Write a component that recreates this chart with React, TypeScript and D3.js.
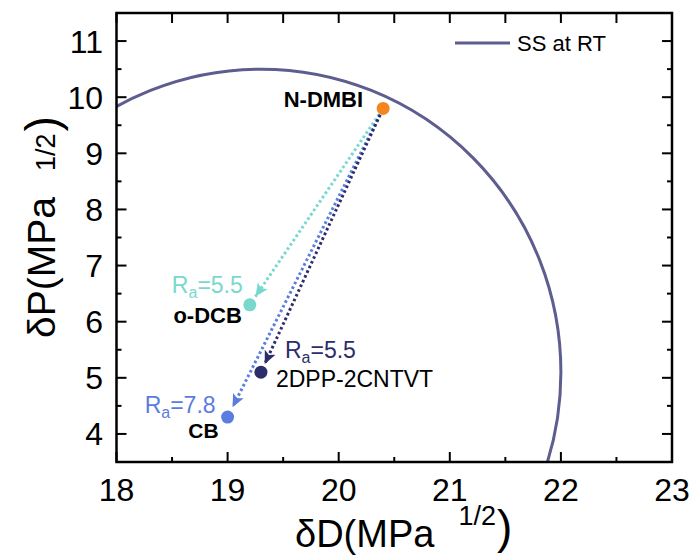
import React from 'react';
import * as d3 from 'd3';

// ---- data ----
const xDomain: [number, number] = [18, 23];
const yDomain: [number, number] = [3.5, 11.5];
const xTickValues = [18, 19, 20, 21, 22, 23];
const yTickValues = [4, 5, 6, 7, 8, 9, 10, 11];
const minorStep = 0.5;

const names = ['N-DMBI', 'o-DCB', '2DPP-2CNTVT', 'CB'];
const deltaD = [20.4, 19.2, 19.3, 19.0];
const deltaP = [9.8, 6.3, 5.1, 4.3];

const sphereCenter = [19.3, 5.1];
const sphereRadius = 5.4; // Hansen radius (δD axis scaled by 2)
const legendLabel = 'SS at RT';

const arrowSource = 'N-DMBI';
const arrowTargets = ['o-DCB', 'CB', '2DPP-2CNTVT'];
const raTargets = ['o-DCB', '2DPP-2CNTVT', 'CB'];
const raValues = ['5.5', '5.5', '7.8'];

// ---- styles ----
const W = 695;
const H = 556;
const M = { left: 116.5, right: 672, top: 13, bottom: 462 };
const FONT = "'Liberation Sans', Arial, Helvetica, sans-serif";

const colors: Record<string, string> = {
  'N-DMBI': '#F5861F',
  'o-DCB': '#79D8CD',
  '2DPP-2CNTVT': '#2C2D6B',
  'CB': '#5A7DDF',
};
const circleColor = '#5E5D8F';

const nameLabelStyle: Record<string, { dx: number; dy: number; anchor: string; bold: boolean; size: number }> = {
  'N-DMBI': { dx: -20, dy: -1, anchor: 'end', bold: true, size: 22 },
  'o-DCB': { dx: -8, dy: 18, anchor: 'end', bold: true, size: 22 },
  '2DPP-2CNTVT': { dx: 15, dy: 15, anchor: 'start', bold: false, size: 23 },
  'CB': { dx: -9, dy: 21, anchor: 'end', bold: true, size: 21 },
};
const raLabelStyle: Record<string, { dx: number; dy: number; anchor: string }> = {
  'o-DCB': { dx: -7, dy: -12, anchor: 'end' },
  '2DPP-2CNTVT': { dx: 24, dy: -14, anchor: 'start' },
  'CB': { dx: -12, dy: -4, anchor: 'end' },
};
const arrowEndGap: Record<string, number> = { 'o-DCB': 10, 'CB': 11, '2DPP-2CNTVT': 9 };

export default function App() {
  const x = d3.scaleLinear().domain(xDomain).range([M.left, M.right]);
  const y = d3.scaleLinear().domain(yDomain).range([M.bottom, M.top]);

  const idx = (n: string) => names.indexOf(n);
  const px = (n: string) => x(deltaD[idx(n)]);
  const py = (n: string) => y(deltaP[idx(n)]);

  const xMinor = d3.range(xDomain[0], xDomain[1] + 1e-9, minorStep);
  const yMinor = d3.range(yDomain[0], yDomain[1] + 1e-9, minorStep);
  const isMajorX = (v: number) => xTickValues.some((t) => Math.abs(t - v) < 1e-9);
  const isMajorY = (v: number) => yTickValues.some((t) => Math.abs(t - v) < 1e-9);

  const majorLen = 10;
  const minorLen = 5;

  const cx = x(sphereCenter[0]);
  const cy = y(sphereCenter[1]);
  const rx = x(sphereCenter[0] + sphereRadius / 2) - cx;
  const ry = cy - y(sphereCenter[1] + sphereRadius);

  const sx = px(arrowSource);
  const sy = py(arrowSource);

  return (
    <svg width={W} height={H} style={{ position: 'absolute', left: 0, top: 0, background: '#fff' }} fontFamily={FONT}>
      <defs>
        <clipPath id="plotClip">
          <rect x={M.left} y={M.top} width={M.right - M.left} height={M.bottom - M.top} />
        </clipPath>
        {arrowTargets.map((t, i) => (
          <marker
            key={t}
            id={`arrow${i}`}
            markerUnits="userSpaceOnUse"
            markerWidth={13}
            markerHeight={13}
            viewBox="0 0 11 10"
            refX={11}
            refY={5}
            orient="auto"
          >
            <path d="M0,0 L11,5 L0,10 L2.5,5 z" fill={colors[t]} />
          </marker>
        ))}
      </defs>

      {/* sphere */}
      <ellipse
        cx={cx}
        cy={cy}
        rx={rx}
        ry={ry}
        fill="none"
        stroke={circleColor}
        strokeWidth={3}
        clipPath="url(#plotClip)"
      />

      {/* arrows */}
      {arrowTargets.map((t, i) => {
        const tx = px(t);
        const ty = py(t);
        const dx = tx - sx;
        const dy = ty - sy;
        const len = Math.hypot(dx, dy);
        const ux = dx / len;
        const uy = dy / len;
        const startGap = 7;
        const endGap = arrowEndGap[t];
        return (
          <line
            key={t}
            x1={sx + ux * startGap}
            y1={sy + uy * startGap}
            x2={tx - ux * endGap}
            y2={ty - uy * endGap}
            stroke={colors[t]}
            strokeWidth={3}
            strokeDasharray="2.6 2.6"
            markerEnd={`url(#arrow${i})`}
          />
        );
      })}

      {/* points */}
      {names.map((n) => (
        <circle key={n} cx={px(n)} cy={py(n)} r={6.5} fill={colors[n]} />
      ))}

      {/* name labels */}
      {names.map((n) => {
        const s = nameLabelStyle[n];
        return (
          <text
            key={n}
            x={px(n) + s.dx}
            y={py(n) + s.dy}
            textAnchor={s.anchor as any}
            fontSize={s.size}
            fontWeight={s.bold ? 'bold' : 'normal'}
            fill="#000"
          >
            {n}
          </text>
        );
      })}

      {/* Ra labels */}
      {raTargets.map((t, i) => {
        const s = raLabelStyle[t];
        return (
          <text
            key={t}
            x={px(t) + s.dx}
            y={py(t) + s.dy}
            textAnchor={s.anchor as any}
            fontSize={23}
            fill={colors[t]}
          >
            R
            <tspan fontSize={16} dy={5}>a</tspan>
            <tspan dy={-5}>={raValues[i]}</tspan>
          </text>
        );
      })}

      {/* frame */}
      <rect
        x={M.left}
        y={M.top}
        width={M.right - M.left}
        height={M.bottom - M.top}
        fill="none"
        stroke="#000"
        strokeWidth={2.5}
      />

      {/* x ticks bottom & top */}
      {xMinor.map((v) => {
        const len = isMajorX(v) ? majorLen : minorLen;
        return (
          <g key={`xt${v}`}>
            <line x1={x(v)} x2={x(v)} y1={M.bottom} y2={M.bottom - len} stroke="#000" strokeWidth={2} />
            <line x1={x(v)} x2={x(v)} y1={M.top} y2={M.top + majorLen} stroke="#000" strokeWidth={2} />
          </g>
        );
      })}
      {/* y ticks left & right */}
      {yMinor.map((v) => {
        const len = isMajorY(v) ? majorLen : minorLen;
        return (
          <g key={`yt${v}`}>
            <line x1={M.left} x2={M.left + len} y1={y(v)} y2={y(v)} stroke="#000" strokeWidth={2} />
            <line x1={M.right} x2={M.right - len} y1={y(v)} y2={y(v)} stroke="#000" strokeWidth={2} />
          </g>
        );
      })}

      {/* tick labels */}
      {xTickValues.map((v) => (
        <text key={`xl${v}`} x={x(v)} y={501} textAnchor="middle" fontSize={32} fill="#000">
          {v}
        </text>
      ))}
      {yTickValues.map((v) => (
        <text key={`yl${v}`} x={103} y={y(v) + 11.5} textAnchor="end" fontSize={32} fill="#000">
          {v}
        </text>
      ))}

      {/* axis titles */}
      <text x={295} y={547} fontSize={38} fill="#000">
        δD(MPa
        <tspan fontSize={27} dx={24} dy={-22}>1/2</tspan>
        <tspan fontSize={46} dx={1} dy={18}>)</tspan>
      </text>
      <text transform="translate(55,338) rotate(-90)" fontSize={39} fill="#000">
        δP(MPa
        <tspan fontSize={27} dx={26} dy={0}>1/2</tspan>
        <tspan fontSize={46} dx={2} dy={3}>)</tspan>
      </text>

      {/* legend */}
      <line x1={455} x2={510} y1={43} y2={43} stroke={circleColor} strokeWidth={3} />
      <text x={517} y={51} fontSize={22} fill="#000">
        {legendLabel}
      </text>
    </svg>
  );
}
